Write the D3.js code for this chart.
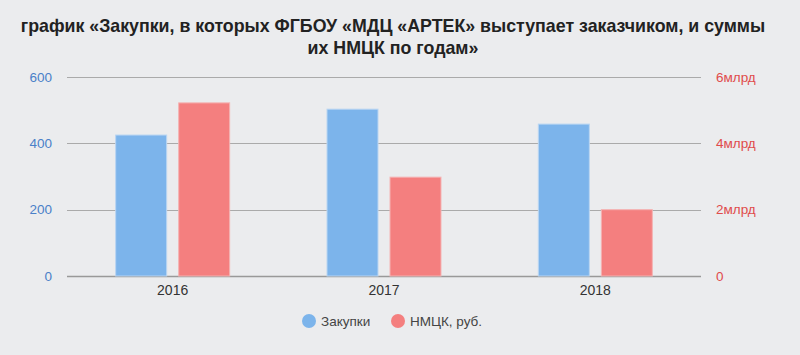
<!DOCTYPE html>
<html>
<head>
<meta charset="utf-8">
<script src="https://cdn.jsdelivr.net/npm/d3@7"></script>
<style>
  html, body { margin: 0; padding: 0; background: #ebecee; }
  svg { display: block; font-family: "Liberation Sans", Arial, sans-serif; }
</style>
</head>
<body>
<svg id="chart" width="800" height="355"></svg>
<script>
// Data
const years = ["2016", "2017", "2018"];
const purchases = [425, 503, 458];            // Закупки (left axis)
const nmck = [5.22e9, 2.98e9, 2.0e9];          // НМЦК, руб. (right axis)
const leftTicks = [0, 200, 400, 600];
const rightTicks = [0, 2e9, 4e9, 6e9];
const seriesNames = ["Закупки", "НМЦК, руб."];
const colors = ["#7cb4eb", "#f47f7f"];

const svg = d3.select("#chart");

// plot area
const margin = { top: 77, right: 99, bottom: 79, left: 67 };
const width = 800 - margin.left - margin.right;
const height = 355 - margin.top - margin.bottom;

// Title
svg.append("text")
    .attr("x", 393).attr("y", 32)
    .attr("text-anchor", "middle")
    .attr("font-size", "17.8px").attr("font-weight", "bold")
    .attr("fill", "#222")
    .text("график «Закупки, в которых ФГБОУ «МДЦ «АРТЕК» выступает заказчиком, и суммы");
svg.append("text")
    .attr("x", 393).attr("y", 54)
    .attr("text-anchor", "middle")
    .attr("font-size", "17.8px").attr("font-weight", "bold")
    .attr("fill", "#222")
    .text("их НМЦК по годам»");

const g = svg.append("g").attr("transform", "translate(" + margin.left + "," + margin.top + ")");

// scales
const x = d3.scaleBand().domain(years).range([0, width]);
const yLeft = d3.scaleLinear().domain([0, 600]).range([height, 0]);
const yRight = d3.scaleLinear().domain([0, 6e9]).range([height, 0]);

// gridlines
g.append("g")
    .selectAll("line")
    .data(leftTicks)
    .enter()
    .append("line")
    .attr("x1", 0).attr("x2", width)
    .attr("y1", (d) => Math.round(yLeft(d)) + 0.5)
    .attr("y2", (d) => Math.round(yLeft(d)) + 0.5)
    .attr("stroke", (d) => d === 0 ? "#999" : "#aaa")
    .attr("stroke-width", (d) => d === 0 ? 1.5 : 1);

// left axis
const leftAxis = g.append("g")
    .call(d3.axisLeft(yLeft).tickValues(leftTicks).tickSize(0).tickPadding(15));
leftAxis.select(".domain").remove();
leftAxis.selectAll("text")
    .attr("font-size", "13.5px")
    .attr("fill", "#4a80c8")
    .attr("font-family", "Liberation Sans, Arial, sans-serif");

// right axis
const rightAxis = g.append("g")
    .attr("transform", "translate(" + width + ",0)")
    .call(d3.axisRight(yRight).tickValues(rightTicks).tickSize(0).tickPadding(15)
        .tickFormat((d) => d === 0 ? "0" : (d / 1e9) + "млрд"));
rightAxis.select(".domain").remove();
rightAxis.selectAll("text")
    .attr("font-size", "13.5px")
    .attr("fill", "#e04b4b")
    .attr("font-family", "Liberation Sans, Arial, sans-serif");

// bottom axis
const bottomAxis = g.append("g")
    .attr("transform", "translate(0," + height + ")")
    .call(d3.axisBottom(x).tickSize(0).tickPadding(9));
bottomAxis.select(".domain").remove();
bottomAxis.selectAll("text")
    .attr("font-size", "14px")
    .attr("fill", "#333")
    .attr("font-family", "Liberation Sans, Arial, sans-serif");

// bars
const barW = 51;
const gap = 12;

g.append("g")
    .selectAll("rect")
    .data(purchases)
    .enter()
    .append("rect")
    .attr("x", (d, i) => x(years[i]) + x.bandwidth() / 2 - gap / 2 - barW)
    .attr("y", (d) => yLeft(d))
    .attr("width", barW)
    .attr("height", (d) => height - yLeft(d))
    .attr("fill", colors[0])
    .attr("stroke", "#b9d5f2")
    .attr("stroke-width", 1);

g.append("g")
    .selectAll("rect")
    .data(nmck)
    .enter()
    .append("rect")
    .attr("x", (d, i) => x(years[i]) + x.bandwidth() / 2 + gap / 2)
    .attr("y", (d) => yRight(d))
    .attr("width", barW)
    .attr("height", (d) => height - yRight(d))
    .attr("fill", colors[1])
    .attr("stroke", "#f5b3b3")
    .attr("stroke-width", 1);

// legend
const legend = svg.append("g").attr("transform", "translate(309,321)");
const legendX = [0, 89];
seriesNames.forEach(function (name, i) {
    legend.append("circle")
        .attr("cx", legendX[i]).attr("cy", 0).attr("r", 7)
        .attr("fill", colors[i]);
    legend.append("text")
        .attr("x", legendX[i] + 12).attr("y", 5)
        .attr("font-size", "13.5px")
        .attr("fill", "#444")
        .text(name);
});
</script>
</body>
</html>
